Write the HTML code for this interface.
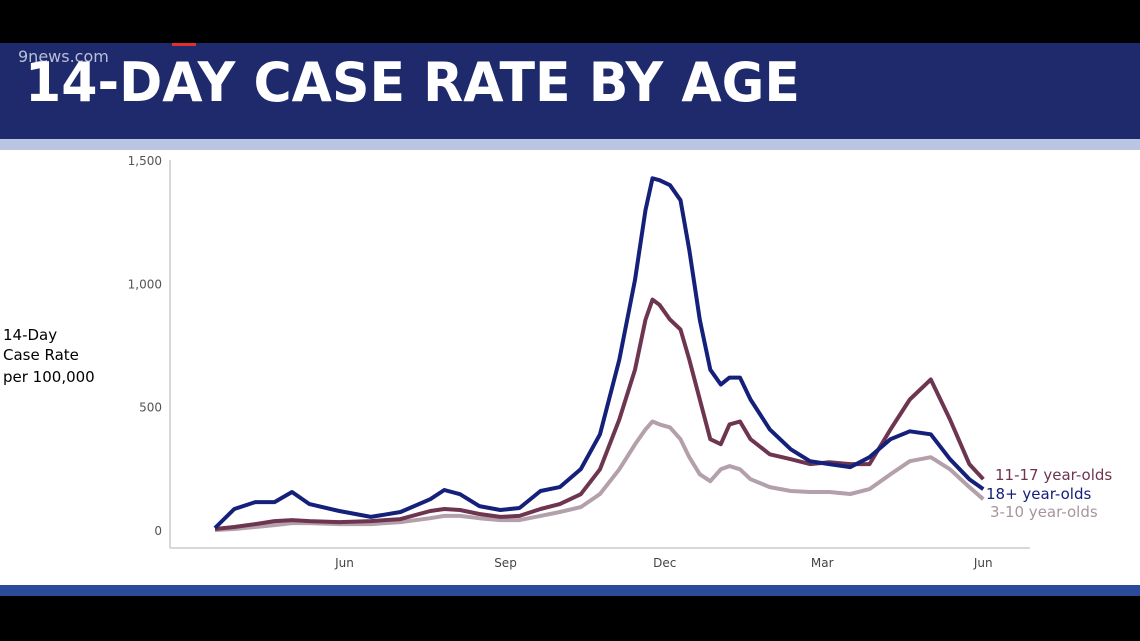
<!DOCTYPE html>
<html><head><meta charset="utf-8"><style>
html,body{margin:0;padding:0;background:#000;}
svg{display:block;font-family:"DejaVu Sans","Liberation Sans",sans-serif;}
</style></head><body>
<svg width="1140" height="641" viewBox="0 0 1140 641">
<rect x="0" y="0" width="1140" height="641" fill="#000"/>
<rect x="0" y="43" width="1140" height="96" fill="#1f2a6c"/>
<rect x="172" y="43" width="24" height="3" fill="#e03030"/>
<rect x="0" y="139" width="1140" height="11" fill="#b9c5e2"/>
<rect x="0" y="150" width="1140" height="435" fill="#fff"/>
<rect x="0" y="585" width="1140" height="11" fill="#2a4a9a"/>
<text x="18" y="62" font-size="16" fill="#b8bfd8">9news.com</text>
<text x="25" y="101" font-size="54" font-weight="bold" fill="#fff" textLength="775" lengthAdjust="spacingAndGlyphs">14-DAY CASE RATE BY AGE</text>
<g font-size="15" fill="#000">
<text x="3" y="340">14-Day</text><text x="3" y="360">Case Rate</text><text x="3" y="382">per 100,000</text>
</g>
<line x1="170" y1="160" x2="170" y2="548" stroke="#ccc" stroke-width="1.5"/>
<line x1="170" y1="548" x2="1030" y2="548" stroke="#ccc" stroke-width="1.5"/>
<g id="yticks" font-size="12" fill="#555" text-anchor="end"></g>
<g id="xticks" font-size="12" fill="#444" text-anchor="middle"></g>
<g id="series"></g>
<g font-size="15">
<text x="995" y="480" fill="#6e3550">11-17 year-olds</text>
<text x="986" y="499" fill="#14207a">18+ year-olds</text>
<text x="990" y="517" fill="#a8949e">3-10 year-olds</text>
</g>
</svg>
<script>
const days=[0,11,23,34,44,54,71,89,106,123,131,140,151,163,174,186,197,209,220,231,240,246,250,254,260,266,271,277,283,289,294,300,306,317,329,340,351,363,374,386,397,409,420,431,439];
const adult=[8,85,113,113,154,105,77,53,73,125,162,145,97,81,89,158,174,247,388,690,1014,1297,1426,1418,1398,1337,1135,852,650,590,618,618,529,408,327,279,267,255,295,368,400,388,287,206,166];
const teen=[4,12,24,36,40,36,32,36,44,77,85,81,65,53,57,85,105,145,246,448,650,853,934,913,853,813,691,529,368,348,428,440,368,307,287,267,275,267,267,408,529,610,448,267,206];
const child=[0,4,12,20,28,28,24,24,32,48,57,57,48,40,40,57,73,93,146,246,347,408,440,428,416,368,295,226,198,246,259,246,206,174,158,154,154,146,166,226,279,295,246,174,125];
const yTicks=[0,500,1000,1500];
const yTickLabels=["0","500","1,000","1,500"];
const xTickDays=[74,166,257,347,439];
const xTickLabels=["Jun","Sep","Dec","Mar","Jun"];
const X=d=>215+d*1.75;
const Y=v=>530-v*(370/1500);
const NS="http://www.w3.org/2000/svg";
const yg=document.getElementById('yticks');
yTicks.forEach((v,i)=>{const t=document.createElementNS(NS,'text');t.setAttribute('x',162);t.setAttribute('y',Y(v)+5);t.textContent=yTickLabels[i];


yg.appendChild(t);});
const xg=document.getElementById('xticks');
xTickDays.forEach((d,i)=>{const t=document.createElementNS(NS,'text');t.setAttribute('x',X(d));t.setAttribute('y',567);t.textContent=xTickLabels[i];


xg.appendChild(t);});
const sg=document.getElementById('series');
[[child,'#b3a0aa','line-3-10'],[teen,'#6e3550','line-11-17'],[adult,'#14207a','line-18-plus']].forEach(([vals,col,name])=>{
const p=document.createElementNS(NS,'polyline');
p.setAttribute('points',vals.map((v,i)=>X(days[i]).toFixed(1)+','+Y(v).toFixed(1)).join(' '));
p.setAttribute('fill','none');p.setAttribute('stroke',col);p.setAttribute('stroke-width','4');p.setAttribute('stroke-linejoin','round');


sg.appendChild(p);});
</script>
</body></html>
